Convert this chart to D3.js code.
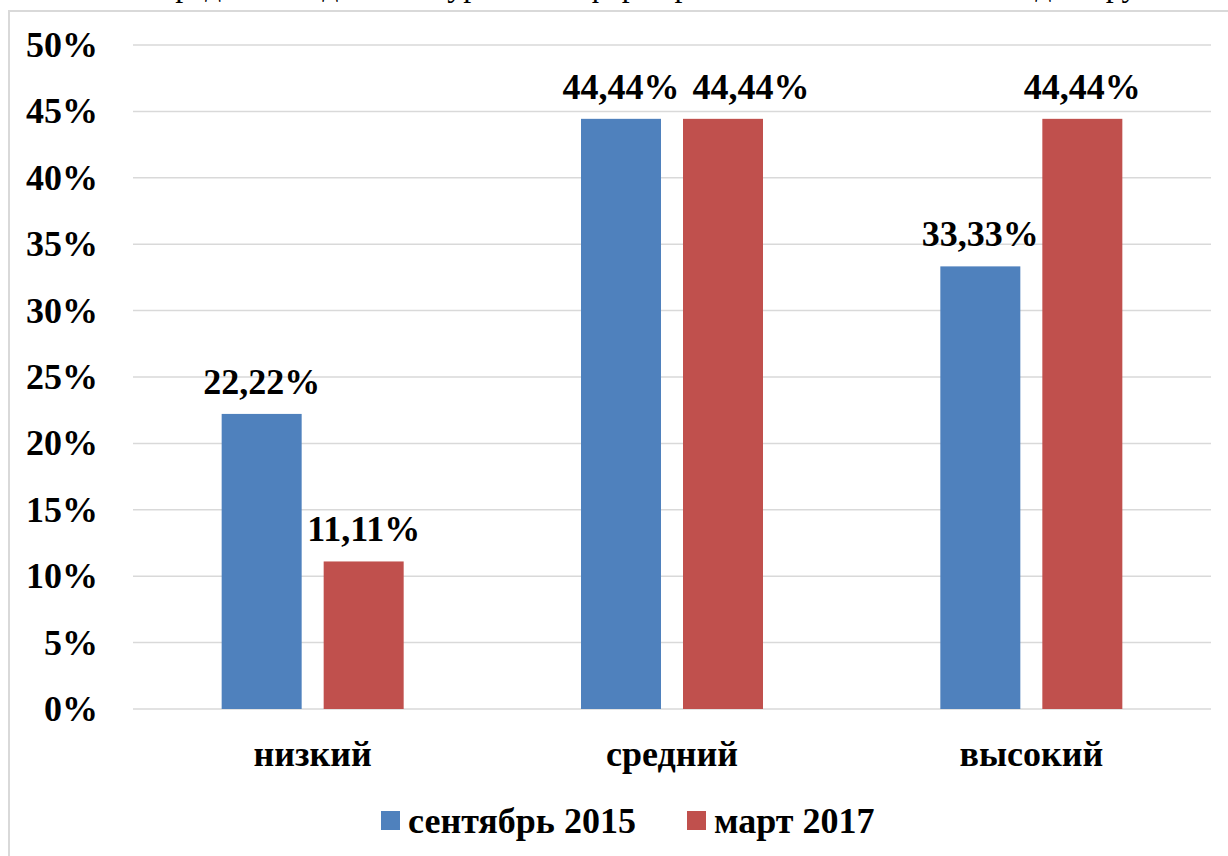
<!DOCTYPE html>
<html>
<head>
<meta charset="utf-8">
<script src="https://cdn.jsdelivr.net/npm/d3@7"></script>
<style>
  html, body { margin: 0; padding: 0; background: #fff; overflow: hidden; }
  svg { display: block; }
</style>
</head>
<body>
<svg id="chart" width="1228" height="856"></svg>
<script>
const categories = ["низкий", "средний", "высокий"];
const seriesNames = ["сентябрь 2015", "март 2017"];
const september2015 = [22.22, 44.44, 33.33];
const march2017 = [11.11, 44.44, 44.44];
const yTicks = [0, 5, 10, 15, 20, 25, 30, 35, 40, 45, 50];
const colors = ["#4F81BD", "#C0504D"];
const titleText = "Распределение детей по уровням сформированности навыков в каждой группе";

(function () {
const FONT = "Liberation Serif";
const seriesValues = [september2015, march2017];
const svg = d3.select("#chart").attr("font-family", FONT);

// partially visible caption above the chart frame
svg.append("text")
  .attr("x", 112).attr("y", -4)
  .attr("font-family", FONT)
  .attr("font-size", 32)
  .attr("fill", "#000")
  .text(titleText);

// chart frame
svg.append("rect")
  .attr("x", 9).attr("y", 11)
  .attr("width", 1240).attr("height", 870)
  .attr("fill", "#fff")
  .attr("stroke", "#d9d9d9")
  .attr("stroke-width", 2);

const pLeft = 133, pRight = 1211, pTop = 45, pBottom = 709;

const y = d3.scaleLinear().domain([0, 50]).range([pBottom, pTop]);
const x0 = d3.scaleBand().domain(categories).range([pLeft, pRight])
  .paddingInner(0.4935).paddingOuter(0.4935 / 2);
const x1 = d3.scaleBand().domain(seriesNames).range([0, x0.bandwidth()])
  .paddingInner(0.2157).paddingOuter(0);

// gridlines
svg.append("g").selectAll("line").data(yTicks).join("line")
  .attr("x1", pLeft).attr("x2", pRight)
  .attr("y1", d => y(d)).attr("y2", d => y(d))
  .attr("stroke", "#d9d9d9").attr("stroke-width", 1.5);

// y axis labels
const yAxis = d3.axisLeft(y).tickValues(yTicks).tickSize(0).tickPadding(0)
  .tickFormat(d => d + "%");
const gy = svg.append("g").attr("transform", `translate(98,0)`).call(yAxis)
  .attr("font-family", FONT);
gy.select(".domain").remove();
gy.selectAll("text")
  .attr("font-family", FONT)
  .attr("font-size", 36).attr("font-weight", "bold").attr("fill", "#000")
  .attr("dy", "0.32em");

// bars
const groups = svg.append("g").selectAll("g").data(categories).join("g")
  .attr("transform", d => `translate(${x0(d)},0)`);

groups.selectAll("rect")
  .data((c, i) => seriesNames.map((s, j) => ({ s, j, v: seriesValues[j][i] })))
  .join("rect")
  .attr("x", d => x1(d.s))
  .attr("width", x1.bandwidth())
  .attr("y", d => y(d.v))
  .attr("height", d => pBottom - y(d.v))
  .attr("fill", d => colors[d.j]);

groups.each(function () {
  const g = d3.select(this);
  const labels = g.selectAll("text.lbl")
    .data(d => { const i = categories.indexOf(d); return seriesNames.map((s, j) => ({ s, j, v: seriesValues[j][i] })); })
    .join("text")
    .attr("class", "lbl")
    .attr("x", d => x1(d.s) + x1.bandwidth() / 2)
    .attr("y", d => y(d.v) - 20)
    .attr("text-anchor", "middle")
    .attr("font-family", FONT)
    .attr("font-size", 36).attr("font-weight", "bold").attr("fill", "#000")
    .text(d => d.v.toFixed(2).replace(".", ",") + "%");
  // avoid overlapping labels (shift the later one right, as the original does)
  const nodes = labels.nodes();
  for (let k = 1; k < nodes.length; k++) {
    const a = nodes[k - 1].getBBox(), b = nodes[k].getBBox();
    const vOverlap = !(b.y > a.y + a.height || a.y > b.y + b.height);
    if (vOverlap && b.x < a.x + a.width + 13) {
      const shift = a.x + a.width + 13 - b.x;
      d3.select(nodes[k]).attr("x", +d3.select(nodes[k]).attr("x") + shift);
    }
  }
});

// x axis labels
const xAxis = d3.axisBottom(x0).tickSize(0).tickPadding(0);
const gx = svg.append("g").attr("transform", `translate(0,${pBottom})`).call(xAxis)
  .attr("font-family", FONT);
gx.select(".domain").remove();
gx.selectAll("text")
  .attr("font-family", FONT)
  .attr("font-size", 36).attr("font-weight", "bold").attr("fill", "#000")
  .attr("dy", 0).attr("y", 57);

// legend
const legend = svg.append("g");
const legendX = [381, 687];
seriesNames.forEach((s, j) => {
  legend.append("rect")
    .attr("x", legendX[j]).attr("y", 811)
    .attr("width", 19).attr("height", 19)
    .attr("fill", colors[j]);
  legend.append("text")
    .attr("x", legendX[j] + 27).attr("y", 833)
    .attr("font-family", FONT)
    .attr("font-size", 36).attr("font-weight", "bold").attr("fill", "#000")
    .text(s);
});
})();
</script>
</body>
</html>
